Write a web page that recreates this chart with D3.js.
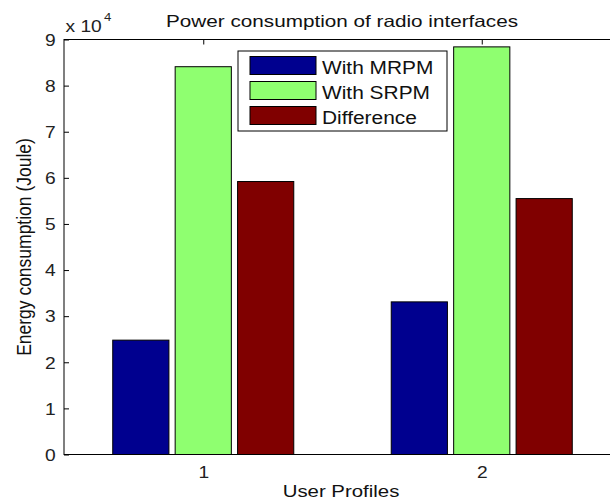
<!DOCTYPE html>
<html>
<head>
<meta charset="utf-8">
<script src="https://cdn.jsdelivr.net/npm/d3@7"></script>
<style>
  body { margin: 0; background: #fff; }
  svg { display: block; font-family: "Liberation Sans", Arial, sans-serif; }
</style>
</head>
<body>
<svg id="chart" width="610" height="501"></svg>
<script>
// data
const profiles = [1, 2];
const seriesNames = ['With MRPM', 'With SRPM', 'Difference'];
const withMRPM = [24800, 33100];
const withSRPM = [84100, 88400];
const difference = [59200, 55500];
const yTicks = [0, 10000, 20000, 30000, 40000, 50000, 60000, 70000, 80000, 90000];

const seriesColors = ['#00008f', '#8fff70', '#800000'];
const seriesValues = [withMRPM, withSRPM, difference];

const margin = { top: 39.5, left: 64, right: -11, bottom: 46.5 };
const W = 610, H = 501;

const svg = d3.select('#chart');
svg.append('rect').attr('width', W).attr('height', H).attr('fill', '#fff');

// plot goes past the right edge (cropped figure)
const x = d3.scaleLinear().domain([0.5, 2.5]).range([margin.left, W - margin.right]);
const y = d3.scaleLinear().domain([0, 90000]).range([H - margin.bottom, margin.top]);
const xInner = d3.scaleBand().domain(seriesNames).range([-0.325, 0.325]).paddingInner(0.1);

// text is a bit wider than tall in the source image
function stretched(g, tx, ty, sx, txt) {
  return g.append('text')
    .attr('transform', `translate(${tx},${ty}) scale(${sx},1)`)
    .text(txt);
}

// axes (ticks pointing inwards)
const gy = svg.append('g')
  .attr('transform', `translate(${margin.left},0)`)
  .call(d3.axisLeft(y).tickValues(yTicks).tickSize(-5).tickPadding(7).tickFormat(d => d / 1e4));
const gx = svg.append('g')
  .attr('transform', `translate(0,${H - margin.bottom})`)
  .call(d3.axisBottom(x).tickValues(profiles).tickSize(-5).tickPadding(12).tickFormat(d3.format('d')));
const gt = svg.append('g')
  .attr('transform', `translate(0,${margin.top})`)
  .call(d3.axisTop(x).tickValues(profiles).tickSize(-5).tickFormat(''));

[gy, gx, gt].forEach(g => {
  g.select('.domain').remove();
  g.selectAll('line').attr('stroke', '#000');
  g.selectAll('text')
    .attr('fill', '#222')
    .style('font-size', '16px')
    .attr('transform', 'scale(1.2,1)');
});
gy.selectAll('text').attr('dy', '0.36em');

// bars
const bars = svg.append('g');
seriesNames.forEach((name, i) => {
  bars.selectAll(null)
    .data(profiles.map((p, j) => ({ p, v: seriesValues[i][j] })))
    .join('rect')
    .attr('x', d => x(d.p + xInner(name)))
    .attr('width', x(xInner.bandwidth()) - x(0))
    .attr('y', d => y(d.v))
    .attr('height', d => y(0) - y(d.v))
    .attr('fill', seriesColors[i])
    .attr('stroke', '#000')
    .attr('stroke-width', 1);
});

// axes box
svg.append('rect')
  .attr('x', margin.left).attr('y', margin.top)
  .attr('width', x.range()[1] - margin.left)
  .attr('height', y(0) - margin.top)
  .attr('fill', 'none').attr('stroke', '#000').attr('stroke-width', 1);

// exponent label
const ex = svg.append('g').attr('fill', '#222');
stretched(ex, 65.5, 31.5, 1.2, 'x 10').style('font-size', '16px');
stretched(ex, 104, 21, 1.2, '4').style('font-size', '11px');

// title and axis labels
const labels = svg.append('g').attr('fill', '#111').attr('text-anchor', 'middle');
stretched(labels, 342, 27, 1.27, 'Power consumption of radio interfaces').style('font-size', '16.3px');
stretched(labels, 341, 497, 1.2, 'User Profiles').style('font-size', '17px');
labels.append('text')
  .attr('transform', `translate(31,${(margin.top + y(0)) / 2}) rotate(-90) scale(1,1.15)`)
  .style('font-size', '17.5px')
  .text('Energy consumption (Joule)');

// legend
const legend = svg.append('g').attr('transform', 'translate(238,51)');
legend.append('rect')
  .attr('width', 209).attr('height', 80)
  .attr('fill', '#fff').attr('stroke', '#000').attr('stroke-width', 1);
seriesNames.forEach((name, i) => {
  legend.append('rect')
    .attr('x', 12).attr('y', 5.5 + i * 25)
    .attr('width', 66).attr('height', 18)
    .attr('fill', seriesColors[i]).attr('stroke', '#000');
  stretched(legend, 84, 22.5 + i * 25, 1.1, name)
    .attr('fill', '#111')
    .style('font-size', '19px');
});
</script>
</body>
</html>
